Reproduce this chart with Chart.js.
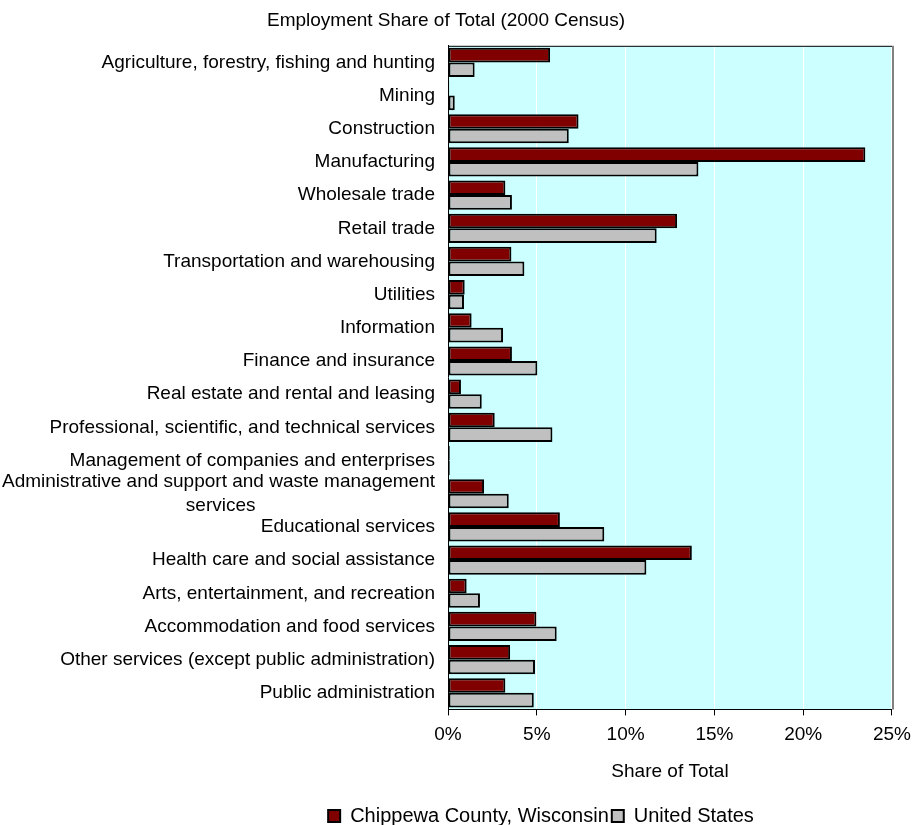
<!DOCTYPE html>
<html>
<head>
<meta charset="utf-8">
<script src="https://cdn.jsdelivr.net/npm/chart.js@4/dist/chart.umd.min.js"></script>
<style>
  html, body { margin: 0; padding: 0; background: #ffffff; }
  #wrap { width: 919px; height: 825px; }
</style>
</head>
<body>
<div id="wrap"><canvas id="emploi" width="919" height="825"></canvas></div>
<script>
// Secteurs (ordre du haut vers le bas)
const sectors = [
    'Agriculture, forestry, fishing and hunting',
    'Mining',
    'Construction',
    'Manufacturing',
    'Wholesale trade',
    'Retail trade',
    'Transportation and warehousing',
    'Utilities',
    'Information',
    'Finance and insurance',
    'Real estate and rental and leasing',
    'Professional, scientific, and technical services',
    'Management of companies and enterprises',
    ['Administrative and support and waste management', 'services' + ' '.repeat(34)],
    'Educational services',
    'Health care and social assistance',
    'Arts, entertainment, and recreation',
    'Accommodation and food services',
    'Other services (except public administration)',
    'Public administration'
];

// Part de l'emploi total (%)
const chippewa = [5.75, 0.07, 7.35, 23.5, 3.23, 12.9, 3.57, 0.94, 1.33, 3.6, 0.73, 2.63, 0.1, 2.03, 6.3, 13.73, 1.05, 4.98, 3.5, 3.23];
const unitedStates = [1.5, 0.38, 6.8, 14.1, 3.6, 11.75, 4.3, 0.9, 3.1, 5.03, 1.9, 5.88, 0.1, 3.42, 8.8, 11.17, 1.8, 6.12, 4.9, 4.83];

const xTicks = [0, 5, 10, 15, 20, 25];

const police = 'Liberation Sans, Arial, sans-serif';

// Fond cyan de la zone de tracé + bordures haut/droite
const plotArea = {
    id: 'plotArea',
    beforeDraw(chart) {
        const { ctx, chartArea: a } = chart;
        ctx.save();
        ctx.fillStyle = '#ccffff';
        ctx.fillRect(a.left, a.top, a.right - a.left, a.bottom - a.top);
        ctx.restore();
        // légende décalée vers la droite
        const shift = 95;
        const lg = chart.legend;
        lg.left += shift - (lg._shifted || 0);
        lg.right += shift - (lg._shifted || 0);
        lg._shifted = shift;
    },
    afterDatasetsDraw(chart) {
        const { ctx, chartArea: a } = chart;
        ctx.save();
        ctx.strokeStyle = '#000000';
        ctx.lineWidth = 1;
        ctx.beginPath();
        ctx.moveTo(a.left, a.top + 0.5);
        ctx.lineTo(a.right, a.top + 0.5);
        ctx.stroke();
        ctx.strokeStyle = '#808080';
        ctx.lineWidth = 2;
        ctx.beginPath();
        ctx.moveTo(a.right + 1, a.top);
        ctx.lineTo(a.right + 1, a.bottom);
        ctx.stroke();
        ctx.restore();
    }
};

new Chart(
    document.getElementById('emploi'),
    {
        type: 'bar',
        data: {
            labels: sectors,
            datasets: [
                {
                    label: 'Chippewa County, Wisconsin',
                    data: chippewa,
                    backgroundColor: '#800000',
                    borderColor: '#000000',
                    borderWidth: 2,
                    borderSkipped: false
                },
                {
                    label: 'United States',
                    data: unitedStates,
                    backgroundColor: '#c0c0c0',
                    borderColor: '#000000',
                    borderWidth: 2,
                    borderSkipped: false
                }
            ]
        },
        options: {
            indexAxis: 'y',
            responsive: false,
            animation: false,
            events: [],
            categoryPercentage: 0.88,
            barPercentage: 1,
            layout: {
                padding: { left: 0, right: 27, top: 0, bottom: -11 }
            },
            plugins: {
                title: {
                    display: true,
                    text: 'Employment Share of Total (2000 Census)',
                    color: '#000000',
                    font: { family: police, size: 19, weight: 'normal' },
                    padding: { top: 9, bottom: 14 }
                },
                legend: {
                    position: 'bottom',
                    labels: {
                        color: '#000000',
                        font: { family: police, size: 20 },
                        boxWidth: 12,
                        boxHeight: 12,
                        padding: 3
                    }
                },
                tooltip: { enabled: false }
            },
            scales: {
                x: {
                    min: 0,
                    max: 25,
                    afterBuildTicks(scale) {
                        scale.ticks = xTicks.map(v => ({ value: v }));
                    },
                    ticks: {
                        color: '#000000',
                        font: { family: police, size: 19 },
                        padding: 8,
                        maxRotation: 0,
                        callback: v => v + '%'
                    },
                    grid: {
                        color: '#ffffff',
                        tickColor: '#000000',
                        tickLength: 6,
                        lineWidth: 1
                    },
                    border: { color: '#000000', width: 1 },
                    title: {
                        display: true,
                        text: 'Share of Total',
                        color: '#000000',
                        font: { family: police, size: 19 },
                        padding: { top: 6, bottom: 20 }
                    }
                },
                y: {
                    afterFit(scale) {
                        scale.width = 448;
                    },
                    ticks: {
                        color: '#000000',
                        font: { family: police, size: 19, lineHeight: 1.3 },
                        padding: 13,
                        autoSkip: false
                    },
                    grid: { display: false, drawTicks: false },
                    border: { color: '#000000', width: 1 }
                }
            }
        },
        plugins: [plotArea]
    }
);
</script>
</body>
</html>
